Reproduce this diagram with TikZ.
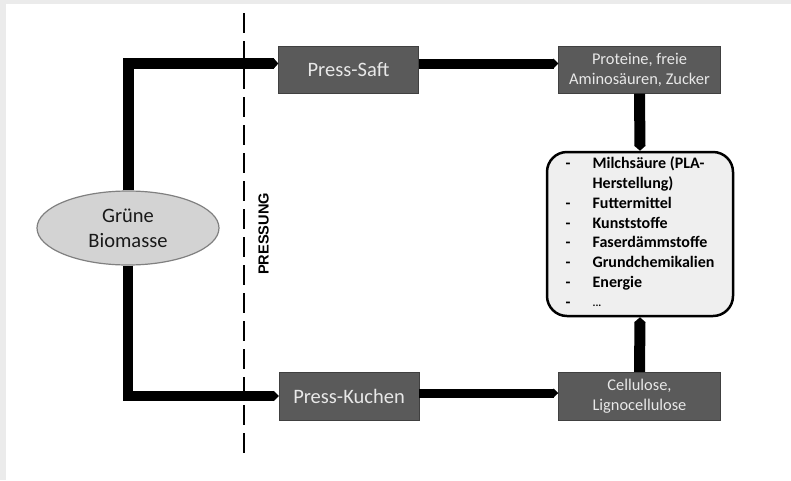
\documentclass[tikz,border=0pt]{standalone}
\usepackage{fontspec}
\setmainfont{Carlito}
\newfontfamily\pressfont{Liberation Sans}
\usetikzlibrary{arrows.meta,shapes.geometric}
\definecolor{framegray}{HTML}{EBEBEB}
\definecolor{boxgray}{HTML}{5A5A5A}
\definecolor{boxborder}{HTML}{404040}
\definecolor{boxtext}{HTML}{E8E8E8}
\definecolor{ellfill}{HTML}{D3D3D3}
\definecolor{ellborder}{HTML}{808080}
\definecolor{listfill}{HTML}{EFEFEF}
\begin{document}
\begin{tikzpicture}[x=1pt,y=-1pt,
    stage/.style={rectangle,draw=boxborder,fill=boxgray,text=boxtext,align=center,inner sep=0pt},
    flow/.style={line width=#1,-{Triangle[length=5pt,width=#1]}},
    flow/.default=11pt]
    % frame
    \fill[framegray] (0,0) rectangle (791,480);
    \fill[white] (6,4) rectangle (791,480);
    \useasboundingbox (0,0) rectangle (791,480);
    % nodes
    \node[ellipse,draw=ellborder,fill=ellfill,line width=1.2pt,minimum width=182pt,minimum height=74pt,inner sep=0pt,
      align=center,text=black!90,font=\fontsize{20.5}{25}\selectfont] (bio) at (128,228) {Grüne\\Biomasse};
    \node[stage,minimum width=140pt,minimum height=47pt,font=\fontsize{20.5}{24}\selectfont] (saft) at (348.5,70) {Press-Saft};
    \node[stage,minimum width=162pt,minimum height=47pt,font=\fontsize{16.4}{20}\selectfont] (prot) at (639.5,70) {Proteine, freie\\Aminosäuren, Zucker};
    \node[stage,minimum width=140pt,minimum height=48pt,font=\fontsize{20.5}{24}\selectfont] (kuchen) at (349,396) {Press-Kuchen};
    \node[stage,minimum width=162pt,minimum height=48pt,font=\fontsize{16.4}{20.5}\selectfont] (cell) at (639.5,396) {Cellulose,\\Lignocellulose};
    \node[rectangle,rounded corners=20pt,draw=black,line width=2.5pt,fill=listfill,minimum width=186pt,minimum height=164pt,inner sep=0pt,
      font=\bfseries\fontsize{16}{19.85}\selectfont] (milch) at (640,234) {%
      \begin{tabular}{@{}p{27pt}@{}l@{}}
        - & Milchsäure (PLA-\\
          & Herstellung)\\
        - & Futtermittel\\
        - & Kunststoffe\\
        - & Faserdämmstoffe\\
        - & Grundchemikalien\\
        - & Energie\\
        - & \raisebox{1pt}{\fontsize{11}{12}\selectfont...}
      \end{tabular}};
    % pressing line
    \coordinate (cuttop) at (244,13);
    \coordinate (cutbot) at (244,456);
    \draw[line width=2.4pt,dash pattern=on 20pt off 8pt] (cuttop) -- (cutbot);
    \node[rotate=90,font=\pressfont\bfseries\fontsize{14.6}{16}\selectfont] (press) at (263.5,234) {PRESSUNG};
    % flows
    \draw[flow] (bio.north) |- ([yshift=6.5pt]saft.west);
    \draw[flow=10pt] ([yshift=6.5pt]saft.east) -- ([yshift=6.5pt]prot.west);
    \draw[flow] (prot.south) -- (milch.north);
    \draw[flow=10pt] (bio.south) |- (kuchen.west);
    \draw[flow=9pt] ([yshift=3pt]kuchen.east) -- ([yshift=3pt]cell.west);
    \draw[flow] (cell.north) -- (milch.south);
  \end{tikzpicture}
\end{document}
